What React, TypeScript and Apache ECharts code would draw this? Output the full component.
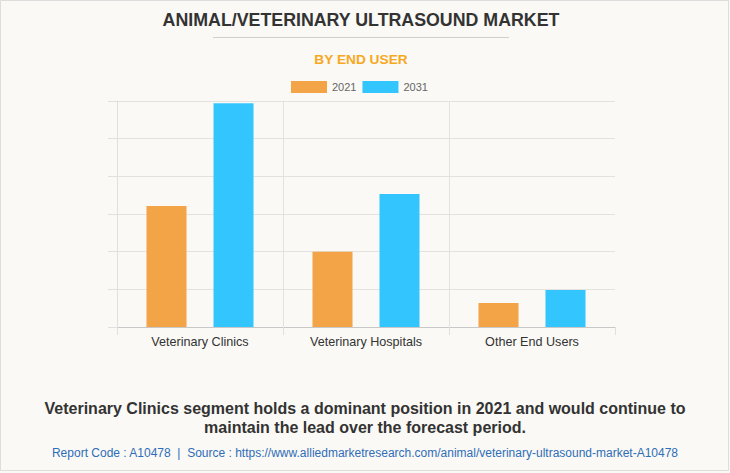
import React, { useEffect, useRef } from "react";
import * as echarts from "echarts";

const categories = ["Veterinary Clinics", "Veterinary Hospitals", "Other End Users"];
const seriesNames = ["2021", "2031"];
const values2021 = [3.21, 2.0, 0.64];
const values2031 = [5.94, 3.53, 0.98];
const titleText = "ANIMAL/VETERINARY ULTRASOUND MARKET";
const subtitleText = "BY END USER";
const captionLines = [
  "Veterinary Clinics segment holds a dominant position in 2021 and would continue to",
  "maintain the lead over the forecast period.",
];
const sourceText =
  "Report Code : A10478  |  Source : https://www.alliedmarketresearch.com/animal/veterinary-ultrasound-market-A10478";

const FONT = '"Liberation Sans", Arial, Helvetica, sans-serif';

export default function App() {
  const ref = useRef<HTMLDivElement>(null);
  useEffect(() => {
    document.body.style.margin = "0";
    if (!ref.current) return;
    const chart = echarts.init(ref.current, null, { renderer: "svg" });
    chart.setOption({
      animation: false,
      backgroundColor: "#FAF9F5",
      textStyle: { fontFamily: FONT },
      title: [
        {
          text: titleText,
          left: 361,
          textAlign: "center",
          top: 11,
          padding: 0,
          textStyle: { fontSize: 17.8, fontWeight: "bold", color: "#333333", fontFamily: FONT },
        },
        {
          text: subtitleText,
          left: 361,
          textAlign: "center",
          top: 52,
          padding: 0,
          textStyle: { fontSize: 13.7, fontWeight: "bold", color: "#F7A823", fontFamily: FONT },
        },
        ...captionLines.map((line, i) => ({
          text: line,
          left: "center",
          top: 400 + i * 19.5,
          padding: 0,
          textStyle: {
            fontSize: 16,
            fontWeight: "bold",
            color: "#333333",
            fontFamily: FONT,
          },
        })),
        {
          text: sourceText,
          left: "center",
          top: 447,
          padding: 0,
          textStyle: { fontSize: 12, fontWeight: "normal", color: "#2E6DB8", fontFamily: FONT },
        },
      ],
      graphic: [
        {
          type: "line",
          shape: { x1: 213, y1: 37.5, x2: 509, y2: 37.5 },
          style: { stroke: "#CFCFCF", lineWidth: 1 },
          silent: true,
        },
        {
          type: "rect",
          shape: { x: 0.5, y: 0.5, width: 728, height: 470 },
          style: { fill: "none", stroke: "#DDDDDD", lineWidth: 1 },
          silent: true,
        },
      ],
      legend: {
        data: seriesNames,
        left: 291,
        top: 81,
        padding: 0,
        itemWidth: 36,
        itemHeight: 12,
        itemGap: 6,
        icon: "rect",
        textStyle: { fontSize: 11, color: "#666666", fontFamily: FONT },
      },
      grid: { left: 117, right: 115, top: 101, bottom: 146, containLabel: false },
      xAxis: {
        type: "category",
        data: categories,
        boundaryGap: true,
        axisLine: { show: true, lineStyle: { color: "#C8C8C8", width: 1 } },
        axisTick: { show: true, length: 8, lineStyle: { color: "#E0E0E0" } },
        splitLine: {
          show: true,
          showMinLine: false,
          showMaxLine: false,
          lineStyle: { color: "#E3E2DE", width: 1 },
        },
        axisLabel: { fontSize: 12.6, color: "#333333", margin: 8, fontFamily: FONT },
      },
      yAxis: {
        type: "value",
        min: 0,
        max: 6,
        interval: 1,
        axisLine: { show: true, lineStyle: { color: "#E0E0E0" } },
        axisTick: { show: true, length: 9, lineStyle: { color: "#E0E0E0" } },
        axisLabel: { show: false },
        splitLine: { show: true, lineStyle: { color: "#E3E2DE", width: 1 } },
      },
      series: [
        {
          name: seriesNames[0],
          type: "bar",
          data: values2021,
          barWidth: 40,
          barGap: "67.5%",
          itemStyle: { color: "#F2A446" },
        },
        {
          name: seriesNames[1],
          type: "bar",
          data: values2031,
          barWidth: 40,
          barGap: "67.5%",
          itemStyle: { color: "#33C6FE" },
        },
      ],
    });
    return () => chart.dispose();
  }, []);
  return <div ref={ref} style={{ width: 730, height: 473 }} />;
}
